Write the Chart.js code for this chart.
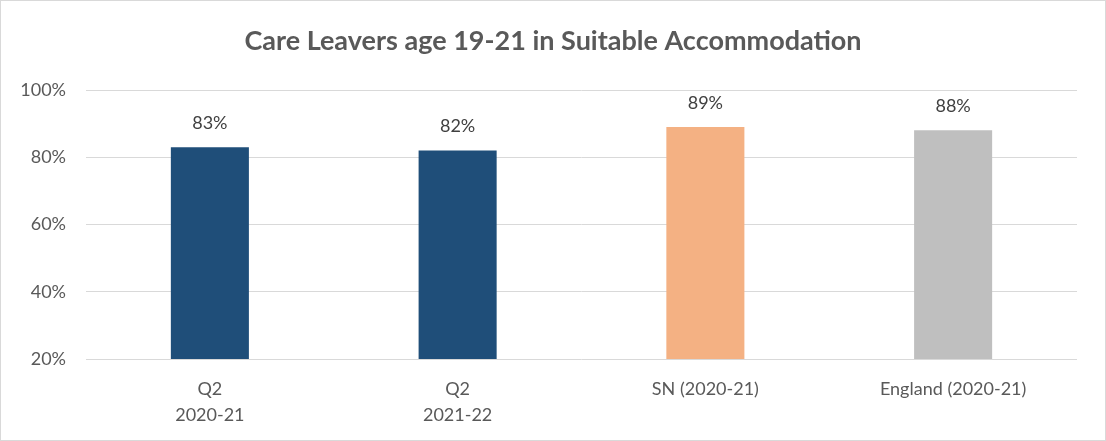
<!DOCTYPE html>
<html>
<head>
<meta charset="utf-8">
<script src="https://cdn.jsdelivr.net/npm/chart.js@4"></script>
<style>
  body { margin: 0; background: #fff; }
  #wrap { width: 1106px; height: 441px; position: relative; }
</style>
</head>
<body>
<div id="wrap"><canvas id="chartLeavers"></canvas></div>
<script>
const categorias = [['Q2', '2020-21'], ['Q2', '2021-22'], 'SN (2020-21)', 'England (2020-21)'];
const valores = [83, 82, 89, 88];
const cores = ['#1F4E79', '#1F4E79', '#F4B183', '#BFBFBF'];
const ticksY = [20, 40, 60, 80, 100];
const titulo = 'Care Leavers age 19-21 in Suitable Accommodation';

const fonte = 'Lato, "Open Sans", sans-serif';

// fundo branco, moldura cinza clara e titulo centrado no quadro todo
const moldura = {
    id: 'moldura',
    beforeDraw(chart) {
        const c = chart.ctx;
        c.save();
        c.fillStyle = '#fff';
        c.fillRect(0, 0, chart.width, chart.height);
        c.strokeStyle = '#d9d9d9';
        c.lineWidth = 1;
        c.strokeRect(0.5, 0.5, chart.width - 1, chart.height - 1);
        c.font = 'bold 27px ' + fonte;
        c.fillStyle = '#595959';
        c.textAlign = 'center';
        c.textBaseline = 'middle';
        c.fillText(titulo, chart.width / 2, 41);
        c.restore();
    }
};

// rotulos de valor acima das barras
const rotulos = {
    id: 'rotulos',
    afterDatasetsDraw(chart) {
        const c = chart.ctx;
        const meta = chart.getDatasetMeta(0);
        c.save();
        c.font = '18px ' + fonte;
        c.fillStyle = '#404040';
        c.textAlign = 'center';
        c.textBaseline = 'middle';
        meta.data.forEach((bar, i) => {
            c.fillText(valores[i] + '%', bar.x, bar.y - 24);
        });
        c.restore();
    }
};

new Chart(document.getElementById('chartLeavers'), {
    type: 'bar',
    data: {
        labels: categorias,
        datasets: [{
            data: valores,
            backgroundColor: cores,
            categoryPercentage: 1,
            barPercentage: 0.315
        }]
    },
    options: {
        responsive: true,
        maintainAspectRatio: false,
        animation: false,
        layout: { padding: { left: 0, right: 29, top: 90, bottom: 0 } },
        plugins: {
            legend: { display: false },
            tooltip: { enabled: false },
            title: { display: false }
        },
        scales: {
            x: {
                grid: { display: false, drawTicks: false },
                border: { display: false },
                ticks: {
                    color: '#595959',
                    font: { family: fonte, size: 18, lineHeight: 1.45 },
                    padding: 17,
                    maxRotation: 0
                },
                afterFit(scale) { scale.height = 82; }
            },
            y: {
                min: 20,
                max: 100,
                grid: { color: '#d9d9d9', lineWidth: 1, drawTicks: false },
                border: { display: false },
                afterBuildTicks(scale) { scale.ticks = ticksY.map(v => ({ value: v })); },
                ticks: {
                    color: '#595959',
                    font: { family: fonte, size: 18 },
                    padding: 20,
                    callback: v => v + '%'
                },
                afterFit(scale) { scale.width = 86; }
            }
        }
    },
    plugins: [moldura, rotulos]
});
</script>
</body>
</html>
